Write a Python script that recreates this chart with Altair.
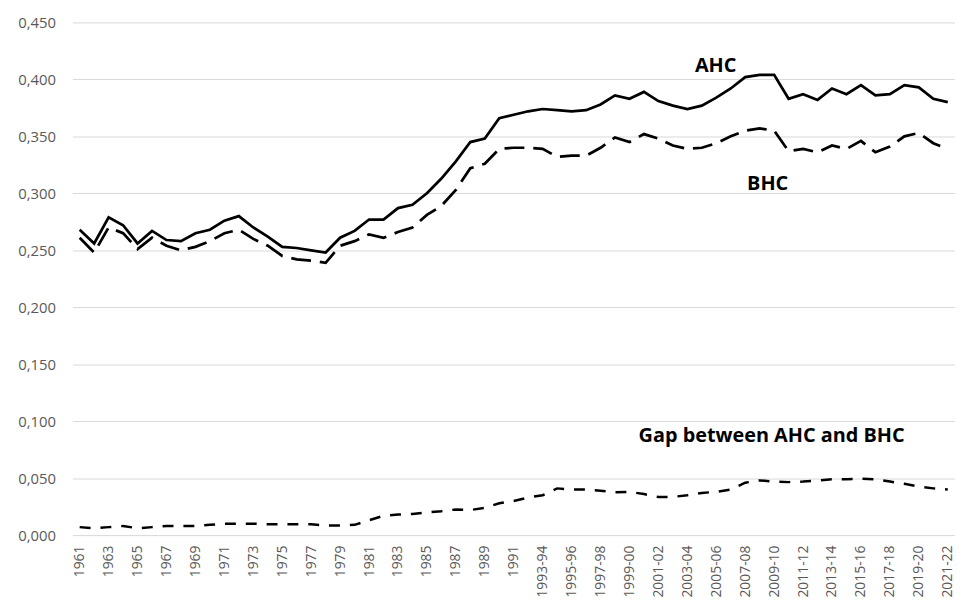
import altair as alt
import pandas as pd

# Categories: calendar years 1961-1992, then financial years 1993-94 to 2021-22
categories = [str(y) for y in range(1961, 1993)] + [f"{y}-{str(y + 1)[-2:]}" for y in range(1993, 2022)]

ahc = [0.268, 0.256, 0.279, 0.272, 0.256, 0.267, 0.259, 0.258, 0.265, 0.268,
       0.276, 0.280, 0.270, 0.262, 0.253, 0.252, 0.250, 0.248, 0.261, 0.267,
       0.277, 0.277, 0.287, 0.290, 0.300, 0.313, 0.328, 0.345, 0.348, 0.366,
       0.369, 0.372, 0.374, 0.373, 0.372, 0.373, 0.378, 0.386, 0.383, 0.389,
       0.381, 0.377, 0.374, 0.377, 0.384, 0.392, 0.402, 0.404, 0.404, 0.383,
       0.387, 0.382, 0.392, 0.387, 0.395, 0.386, 0.387, 0.395, 0.393, 0.383,
       0.380]

bhc = [0.261, 0.248, 0.270, 0.265, 0.251, 0.261, 0.254, 0.250, 0.253, 0.258,
       0.265, 0.268, 0.260, 0.254, 0.245, 0.242, 0.241, 0.239, 0.254, 0.258,
       0.264, 0.261, 0.266, 0.270, 0.281, 0.289, 0.303, 0.322, 0.326, 0.339,
       0.340, 0.340, 0.339, 0.332, 0.333, 0.333, 0.340, 0.349, 0.345, 0.352,
       0.348, 0.342, 0.339, 0.340, 0.344, 0.350, 0.355, 0.357, 0.355, 0.337,
       0.339, 0.336, 0.342, 0.339, 0.346, 0.336, 0.341, 0.350, 0.353, 0.344,
       0.339]

gap = [0.007, 0.006, 0.007, 0.008, 0.006, 0.007, 0.008, 0.008, 0.008, 0.009,
       0.010, 0.010, 0.010, 0.0095, 0.0095, 0.0095, 0.0095, 0.0085, 0.0085, 0.009,
       0.013, 0.017, 0.018, 0.0185, 0.020, 0.021, 0.0225, 0.022, 0.024, 0.028,
       0.030, 0.033, 0.035, 0.041, 0.040, 0.040, 0.039, 0.0375, 0.038, 0.036,
       0.0335, 0.0335, 0.035, 0.037, 0.038, 0.040, 0.046, 0.048, 0.047, 0.0465,
       0.047, 0.048, 0.049, 0.049, 0.0495, 0.049, 0.047, 0.045, 0.0425, 0.041,
       0.040]

label_texts = ["AHC", "BHC", "Gap between AHC and BHC"]
label_cats = ["2004-05", "2008-09", "2008-09"]
label_vals = [0.4113, 0.3078, 0.0870]

y_ticks = [0.0, 0.05, 0.10, 0.15, 0.20, 0.25, 0.30, 0.35, 0.40, 0.45]
x_label_values = categories[0::2]

df = pd.DataFrame({"cat": categories, "ahc": ahc, "bhc": bhc, "gap": gap})
lab = pd.DataFrame({"text": label_texts, "cat": label_cats, "val": label_vals})

FONT = "Open Sans"

x_enc = alt.X(
    "cat:N",
    sort=categories,
    scale=alt.Scale(type="point", padding=0.5, domain=categories),
    axis=alt.Axis(
        title=None,
        values=x_label_values,
        labelAngle=-90,
        labelFont=FONT,
        labelFontSize=14,
        labelColor="#595959",
        labelPadding=10,
        ticks=False,
        tickSize=0,
        domain=False,
        grid=False,
        labelOverlap=False,
    ),
)

y_scale = alt.Scale(domain=[0, 0.45], nice=False, zero=True)
y_axis = alt.Axis(
    title=None,
    values=y_ticks,
    labelExpr="replace(format(datum.value, '.3f'), '.', ',')",
    labelFont=FONT,
    labelFontSize=15,
    labelColor="#595959",
    labelPadding=17,
    ticks=False,
    tickSize=0,
    domain=False,
    grid=True,
    gridColor="#d9d9d9",
    gridWidth=1,
)

base = alt.Chart(df)

ahc_line = base.mark_line(color="black", strokeWidth=2.75).encode(
    x=x_enc, y=alt.Y("ahc:Q", scale=y_scale, axis=y_axis)
)
bhc_line = base.mark_line(color="black", strokeWidth=2.75, strokeDash=[20, 9]).encode(
    x=x_enc, y=alt.Y("bhc:Q", scale=y_scale, axis=y_axis)
)
gap_line = base.mark_line(color="black", strokeWidth=2.5, strokeDash=[11, 10]).encode(
    x=x_enc, y=alt.Y("gap:Q", scale=y_scale, axis=y_axis)
)

def text_layer(i, dx):
    return alt.Chart(lab.iloc[[i]]).mark_text(
        font=FONT, fontSize=20, fontWeight="bold", color="black",
        align="center", baseline="middle", dx=dx
    ).encode(x=x_enc, y=alt.Y("val:Q", scale=y_scale, axis=y_axis), text="text:N")

chart = alt.layer(
    ahc_line, bhc_line, gap_line,
    text_layer(0, 14), text_layer(1, 8), text_layer(2, 12),
).properties(
    width=890,
    height=517,
    padding={"left": 65, "top": 12, "right": 0, "bottom": 75},
    autosize=alt.AutoSizeParams(type="none"),
    background="white",
).configure_view(stroke=None)

chart.save("out.html", embed_options={"renderer": "svg", "actions": False})
